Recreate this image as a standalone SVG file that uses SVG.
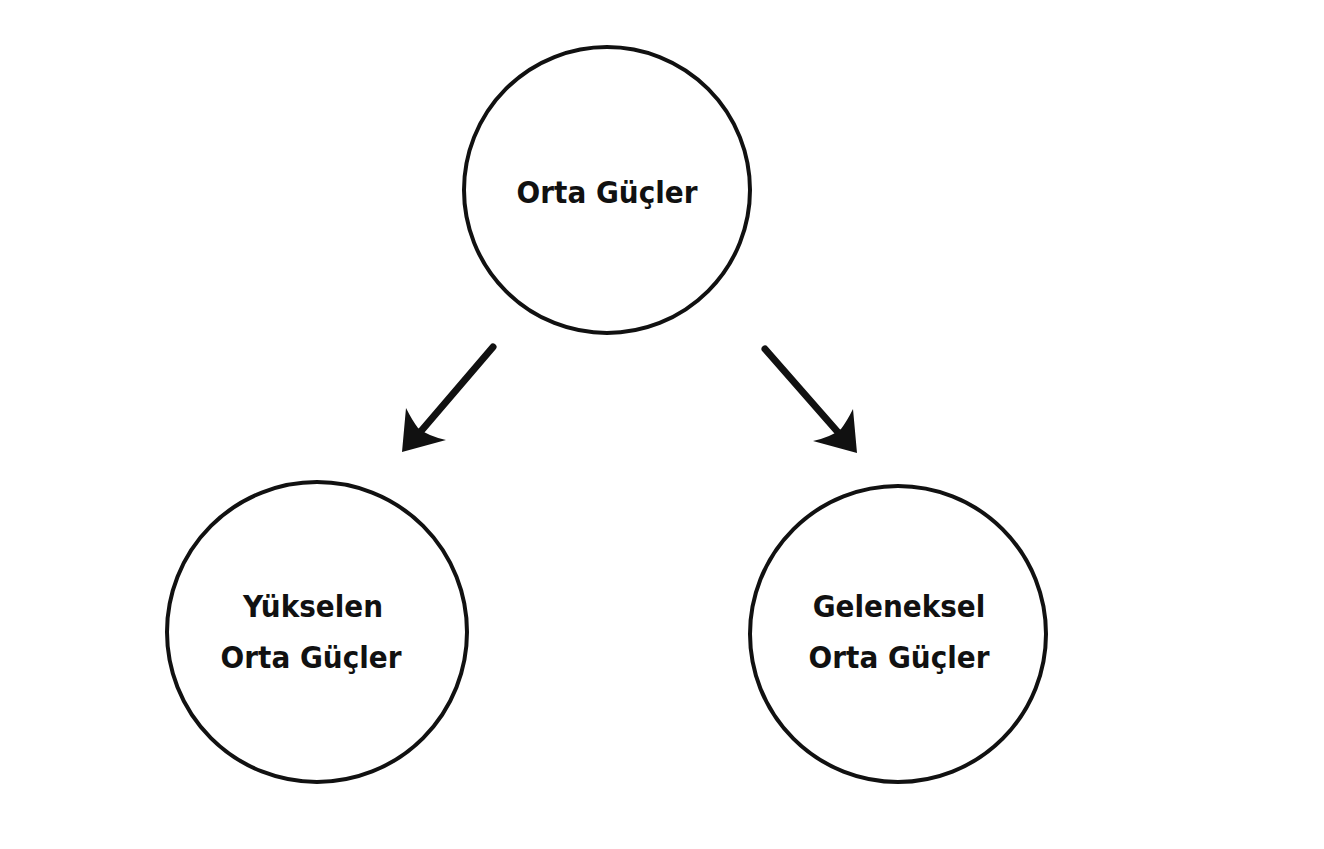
<svg xmlns="http://www.w3.org/2000/svg" width="1324" height="849" viewBox="0 0 1324 849">
<style>
.n{fill:#fff;stroke:#111;stroke-width:4}
.t{font-family:"DejaVu Sans Condensed","DejaVu Sans",sans-serif;font-weight:bold;font-size:31px;fill:#111;text-anchor:middle}
.c{stroke:#111;stroke-width:7;stroke-linecap:round;fill:none}
.h{fill:#111}
</style>
<rect width="1324" height="849" fill="#fff"/>
<g id="n-top"><circle class="n" cx="607" cy="190" r="143"/><text class="t" x="607" y="203">Orta Güçler</text></g>
<g id="n-left"><circle class="n" cx="317" cy="632" r="150"/><text class="t" x="313" y="617">Yükselen</text><text class="t" x="311" y="668">Orta Güçler</text></g>
<g id="n-right"><circle class="n" cx="898" cy="634" r="148"/><text class="t" x="899" y="617">Geleneksel</text><text class="t" x="899" y="668">Orta Güçler</text></g>
<g id="connectors">
<line class="c" x1="493" y1="347" x2="416" y2="437"/>
<path class="h" d="M402,452 L406,408 Q412,420 418,428 Q428,436 446,440 Z"/>
<line class="c" x1="765" y1="349" x2="843" y2="438"/>
<path class="h" d="M857,453 L853,409 Q847,421 841,429 Q831,437 813,441 Z"/>
</g>
</svg>
